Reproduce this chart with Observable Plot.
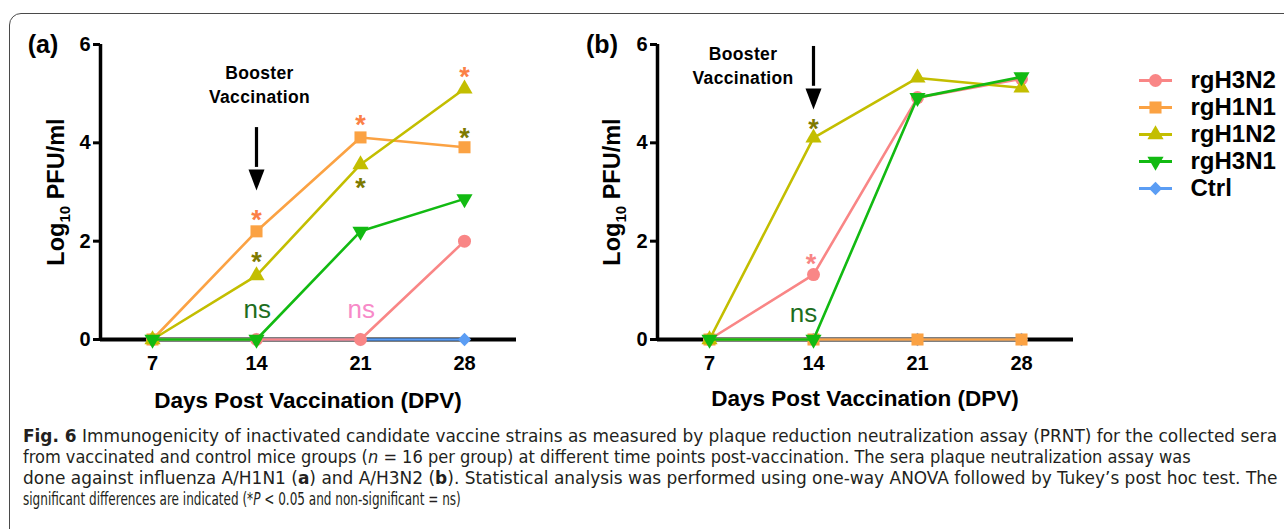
<!DOCTYPE html>
<html>
<head>
<meta charset="utf-8">
<script src="https://cdn.jsdelivr.net/npm/d3@7"></script>
<script src="https://cdn.jsdelivr.net/npm/@observablehq/plot@0.6"></script>
<style>
  html, body { margin: 0; padding: 0; background: #fff; }
  body { width: 1284px; height: 529px; position: relative; overflow: hidden; font-family: "Liberation Sans", Arial, Helvetica, sans-serif; }
  #border { position: absolute; left: 9px; top: 13px; width: 1400px; height: 700px; border: 1.3px solid #4a4a4a; border-radius: 12px; box-sizing: border-box; }
  .panel { position: absolute; top: 0; }
  #legend { position: absolute; left: 1120px; top: 40px; }
  #caption { position: absolute; left: 0; top: 415px; }
</style>
</head>
<body>
<div id="border"></div>
<div id="pa" class="panel" style="left:0px"></div>
<div id="pb" class="panel" style="left:557px"></div>
<div id="legend"></div>
<svg id="caption" width="1284" height="114" xmlns="http://www.w3.org/2000/svg"
     font-family="Liberation Sans Narrow, DejaVu Sans Condensed, Open Sans, Roboto, sans-serif" font-size="17" fill="#231f20">
  <text class="capline" data-w="1255" data-y="26.5"><tspan font-weight="bold">Fig. 6</tspan><tspan>  Immunogenicity of inactivated candidate vaccine strains as measured by plaque reduction neutralization assay (PRNT) for the collected sera</tspan></text>
  <text class="capline" data-w="1168" data-y="47.5"><tspan>from vaccinated and control mice groups (</tspan><tspan font-style="italic">n</tspan><tspan> = 16 per group) at different time points post-vaccination. The sera plaque neutralization assay was</tspan></text>
  <text class="capline" data-w="1255" data-y="68.5"><tspan>done against influenza A/H1N1 (</tspan><tspan font-weight="bold">a</tspan><tspan>) and A/H3N2 (</tspan><tspan font-weight="bold">b</tspan><tspan>). Statistical analysis was performed using one-way ANOVA followed by Tukey’s post hoc test. The</tspan></text>
  <text class="capline" data-w="438" data-y="89.5"><tspan>significant differences are indicated (*</tspan><tspan font-style="italic">P</tspan><tspan> &lt; 0.05 and non-significant = ns)</tspan></text>
</svg>

<script>
// ---------------- data ----------------
const days = [7, 14, 21, 28];
const yTicks = [0, 2, 4, 6];
const strains = ["rgH3N2", "rgH1N1", "rgH1N2", "rgH3N1", "Ctrl"];
const colors = ["#F98686", "#FBA243", "#C3BE00", "#12BA12", "#5B9DF4"];
const symbols = ["circle", "square", "triangle", "triangle", "diamond2"];
const rotations = [0, 0, 0, 180, 0];
const sizes = [6.5, 6.8, 6, 6, 6];
const drawOrder = [4, 0, 1, 2, 3];

// Panel (a): neutralization against A/H1N1
const a_rgH3N2 = [0, 0, 0, 2.0];
const a_rgH1N1 = [0, 2.2, 4.11, 3.91];
const a_rgH1N2 = [0, 1.3, 3.56, 5.1];
const a_rgH3N1 = [0, 0, 2.2, 2.86];
const a_Ctrl   = [0, 0, 0, 0];

// Panel (b): neutralization against A/H3N2
const b_rgH3N2 = [0, 1.32, 4.92, 5.3];
const b_rgH1N1 = [0, 0, 0, 0];
const b_rgH1N2 = [0, 4.1, 5.32, 5.12];
const b_rgH3N1 = [0, 0, 4.92, 5.34];
const b_Ctrl   = [0, 0, 0, 0];

// significance annotations
const starOrange = "#FB8046", starOlive = "#7D7A00", starPink = "#F88585";
const a_starDay   = [14, 14, 21, 21, 28, 28];
const a_starY     = [2.56, 1.71, 4.49, 3.2, 5.47, 4.22];
const a_starColor = [starOrange, starOlive, starOrange, starOlive, starOrange, starOlive];
const a_nsDay   = [14.05, 21.05];
const a_nsY     = [0.59, 0.59];
const a_nsColor = ["#1E6E1E", "#F78AC8"];

const b_starDay   = [14, 13.83];
const b_starY     = [4.4, 1.66];
const b_starColor = [starOlive, starPink];
const b_nsDay   = [13.33];
const b_nsY     = [0.51];
const b_nsColor = ["#1E6E1E"];

const FONT = "Liberation Sans, Arial, Helvetica, sans-serif";

// filled down-pointing arrow head, tip at the anchor point
const arrowHead = {
  draw(ctx) { ctx.moveTo(-8, -21); ctx.lineTo(8, -21); ctx.lineTo(0, 0); ctx.closePath(); }
};

function drawPanel(el, p) {
  const marks = [
    Plot.ruleY([0], {stroke: "black", strokeWidth: 4}),
    Plot.ruleX([3.5], {y1: 0, y2: 6, stroke: "black", strokeWidth: 3.5}),
    Plot.axisY({ticks: yTicks, tickSize: 7, tickPadding: 3, strokeWidth: 3, fontSize: 20, fontWeight: "bold", label: null, tickFormat: d => String(d)}),
    Plot.axisX({ticks: days, tickSize: 0, tickPadding: 16, fontSize: 20, fontWeight: "bold", label: null, tickFormat: d => String(d)})
  ];
  for (const i of drawOrder) {
    const rows = days.map((d, j) => ({day: d, v: p.values[i][j]}));
    marks.push(Plot.line(rows, {x: "day", y: "v", stroke: colors[i], strokeWidth: 2.6}));
    marks.push(Plot.dot(rows, {x: "day", y: "v", symbol: symbols[i], rotate: rotations[i], r: sizes[i], fill: colors[i], stroke: "none"}));
  }
  const stars = p.starDay.map((d, j) => ({day: d, y: p.starY[j], c: p.starColor[j]}));
  const ns = p.nsDay.map((d, j) => ({day: d, y: p.nsY[j], c: p.nsColor[j]}));
  marks.push(Plot.text(stars, {x: "day", y: "y", text: () => "*", fill: d => d.c, fontSize: 27, fontWeight: "bold", dy: 6.5}));
  marks.push(Plot.text(ns, {x: "day", y: "y", text: () => "ns", fill: d => d.c, fontSize: 26, dy: -1}));
  // booster annotation
  marks.push(Plot.text(["Booster"], {x: p.boostX, y: p.boostY1, text: d => d, fontSize: 17.5, fontWeight: "bold", fill: "black"}));
  marks.push(Plot.text(["Vaccination"], {x: p.boostX, y: p.boostY2, text: d => d, fontSize: 17.5, fontWeight: "bold", fill: "black"}));
  marks.push(Plot.ruleX([14], {x: d => d, y1: p.arrowTop, y2: p.arrowBase, stroke: "black", strokeWidth: 3.2}));
  marks.push(Plot.dot([14], {x: d => d, y: p.arrowTip, symbol: arrowHead, fill: "black", stroke: "none"}));

  const svg = Plot.plot({
    width: 560, height: 420,
    marginLeft: 100, marginRight: 44, marginTop: 44, marginBottom: 81,
    x: {domain: [3.5, 31.5]},
    y: {domain: [0, 6]},
    color: {type: "identity"},
    style: {fontFamily: FONT, color: "black", background: "transparent", overflow: "visible"},
    marks
  });
  const s = d3.select(svg);
  s.selectAll("text").filter(function() { return this.textContent === "Booster" || this.textContent === "Vaccination"; })
    .attr("letter-spacing", "0.35px");
  // panel letter
  s.append("text").attr("x", p.letterX).attr("y", 44).attr("dy", "0.35em").attr("text-anchor", "middle")
    .attr("font-size", 25).attr("font-weight", "bold").attr("fill", "black").text(p.letter);
  // y label with subscript
  const yl = s.append("text").attr("transform", `translate(${p.ylabX + 8.5},192) rotate(-90)`)
    .attr("text-anchor", "middle").attr("font-size", 23.5).attr("font-weight", "bold").attr("fill", "black");
  yl.append("tspan").text("Log");
  yl.append("tspan").attr("font-size", 15).attr("dy", 6).text("10");
  yl.append("tspan").attr("dy", -6).text(" PFU/ml");
  // x label
  s.append("text").attr("x", 308).attr("y", p.xlabY).attr("dy", "0.35em").attr("text-anchor", "middle")
    .attr("font-size", 22.5).attr("font-weight", "bold").attr("fill", "black").text("Days Post Vaccination (DPV)");
  el.appendChild(svg);
}

drawPanel(document.getElementById("pa"), {
  values: [a_rgH3N2, a_rgH1N1, a_rgH1N2, a_rgH3N1, a_Ctrl],
  starDay: a_starDay, starY: a_starY, starColor: a_starColor,
  nsDay: a_nsDay, nsY: a_nsY, nsColor: a_nsColor,
  boostX: 14.2, boostY1: 5.41, boostY2: 4.92,
  arrowTop: 4.31, arrowBase: 3.5, arrowTip: 3.03,
  letter: "(a)", letterX: 43, ylabX: 55, xlabY: 400
});
drawPanel(document.getElementById("pb"), {
  values: [b_rgH3N2, b_rgH1N1, b_rgH1N2, b_rgH3N1, b_Ctrl],
  starDay: b_starDay, starY: b_starY, starColor: b_starColor,
  nsDay: b_nsDay, nsY: b_nsY, nsColor: b_nsColor,
  boostX: 9.26, boostY1: 5.8, boostY2: 5.31,
  arrowTop: 5.96, arrowBase: 5.15, arrowTip: 4.68,
  letter: "(b)", letterX: 45, ylabX: 54, xlabY: 398
});

// ---------------- legend ----------------
const legendMarks = [];
strains.forEach((s, i) => {
  legendMarks.push(Plot.ruleY([s], {y: d => d, x1: 19, x2: 52, stroke: colors[i], strokeWidth: 3}));
  legendMarks.push(Plot.dot([s], {x: 35, y: d => d, symbol: symbols[i], rotate: rotations[i], r: sizes[i], fill: colors[i], stroke: "none"}));
});
legendMarks.push(Plot.text(strains, {x: 70, y: d => d, text: d => d, textAnchor: "start", fontSize: 24, fontWeight: "bold", fill: "black"}));
document.getElementById("legend").appendChild(Plot.plot({
  width: 164, height: 180, margin: 0,
  x: {type: "identity", axis: null},
  y: {type: "point", domain: strains, range: [25, 162], axis: null},
  style: {fontFamily: FONT, background: "transparent", overflow: "visible"},
  marks: legendMarks
}));

// ---------------- caption line fitting ----------------
document.querySelectorAll("#caption .capline").forEach(t => {
  t.setAttribute("x", 0);
  t.setAttribute("y", 0);
  const w = t.getBBox().width;
  const k = (+t.dataset.w) / w;
  t.setAttribute("transform", `translate(23,${t.dataset.y}) scale(${k},1)`);
});
</script>
</body>
</html>
